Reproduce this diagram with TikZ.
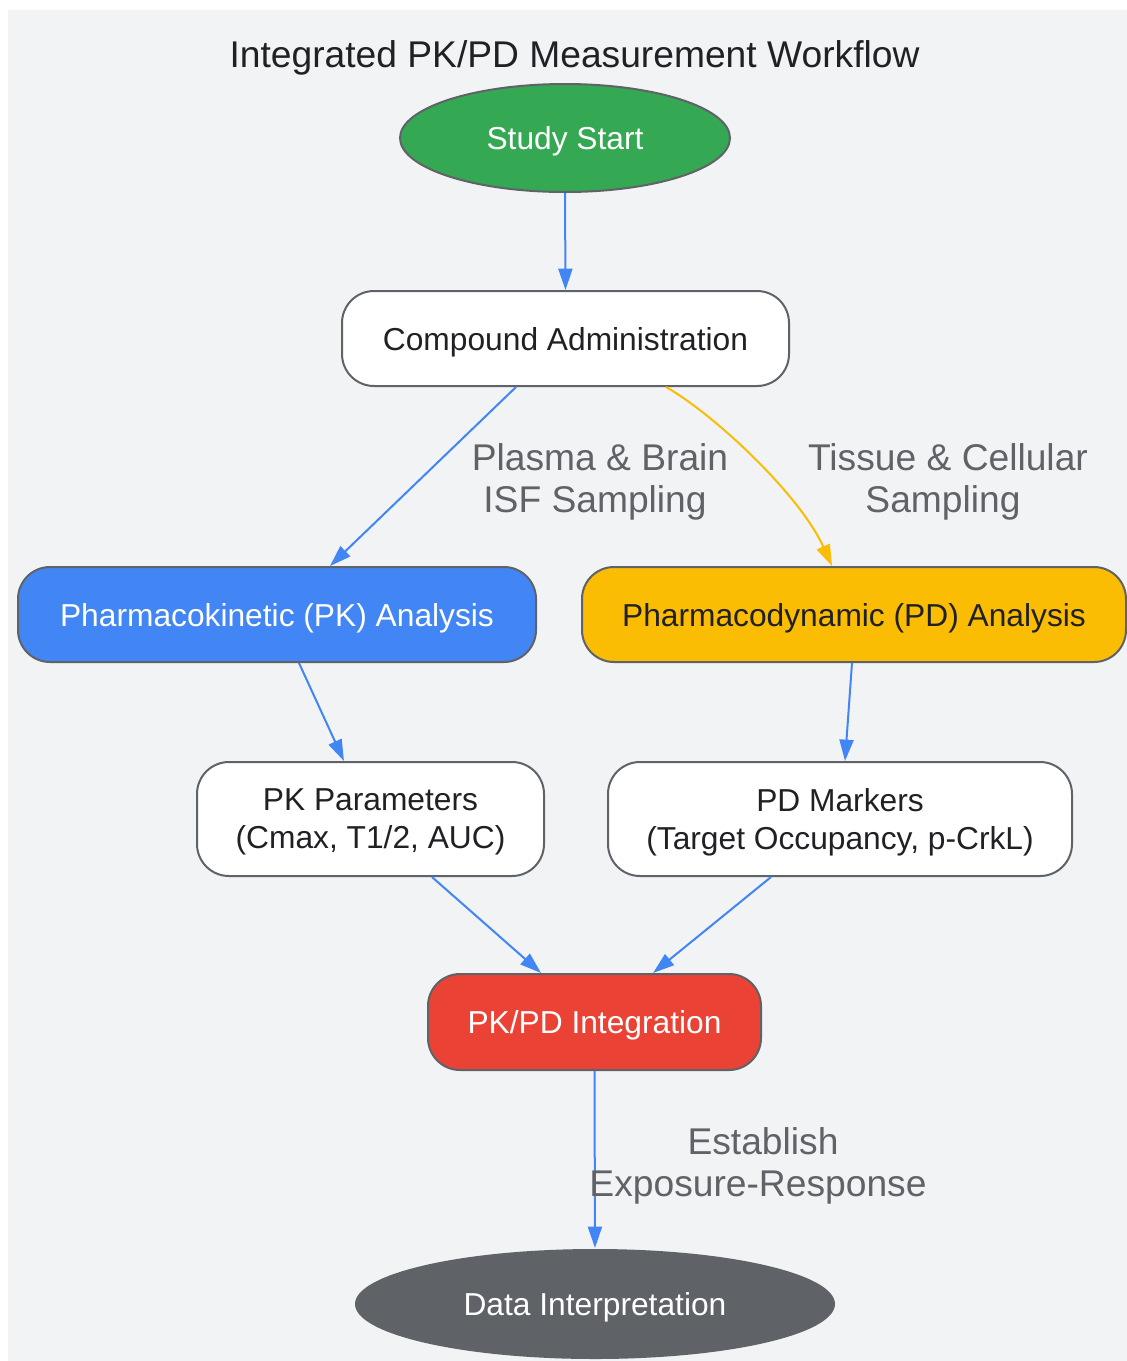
\documentclass[tikz,border=0pt]{standalone}
\usepackage{fontspec}
\setmainfont{Liberation Sans}
\usetikzlibrary{arrows.meta,shapes.geometric}
\definecolor{bgc}{HTML}{F1F3F4}
\definecolor{ggreen}{HTML}{34A853}
\definecolor{gblue}{HTML}{4285F4}
\definecolor{gyellow}{HTML}{FBBC04}
\definecolor{gred}{HTML}{EA4335}
\definecolor{ggray}{HTML}{5F6368}
\definecolor{gtext}{HTML}{202124}
\tikzset{
  base/.style={draw=ggray, line width=1.5pt, inner sep=0pt, align=center, text depth=0pt,
    font=\fontsize{23.8pt}{28.5pt}\selectfont, text=gtext},
  oval/.style={base, ellipse},
  box/.style={base, rectangle, rounded corners=24pt},
  edgelabel/.style={align=center, text=ggray, text depth=0pt, font=\fontsize{27.9pt}{31.5pt}\selectfont},
  conn/.style={draw=gblue, line width=1.5pt, -{Triangle[length=16pt,width=10.5pt]}},
  connY/.style={conn, draw=gyellow},
}
\begin{document}
\begin{tikzpicture}[x=0.75pt,y=-0.75pt]
\useasboundingbox (0,0) rectangle (1127,1361);
\fill[bgc] (8,10) rectangle (1127,1361);

\node[text=gtext, text depth=0pt, font=\fontsize{27.9pt}{31.5pt}\selectfont] (title) at (574.5,54) {Integrated PK/PD Measurement Workflow};

\node[oval, fill=ggreen, text=white, minimum width=247.5pt, minimum height=81pt] (start) at (565,138) {Study Start};
\node[box, fill=white, minimum width=335.25pt, minimum height=71.25pt] (comp) at (565.5,338.5) {Compound Administration};
\node[box, fill=gblue, text=white, minimum width=388.5pt, minimum height=71.25pt] (pk) at (277,614.5) {Pharmacokinetic (PK) Analysis};
\node[box, fill=gyellow, minimum width=408pt, minimum height=71.25pt] (pd) at (854,614.5) {Pharmacodynamic (PD) Analysis};
\node[box, fill=white, minimum width=260.25pt, minimum height=85.5pt] (pkp) at (370.5,819) {PK Parameters\\(Cmax, T1/2, AUC)};
\node[box, fill=white, minimum width=348pt, minimum height=85.5pt] (pdm) at (840,819) {PD Markers\\(Target Occupancy, p-CrkL)};
\node[box, fill=gred, text=white, minimum width=249.75pt, minimum height=72pt] (int) at (594.5,1022) {PK/PD Integration};
\node[oval, fill=ggray, draw=none, text=white, minimum width=360pt, minimum height=82.5pt] (di) at (595,1304) {Data Interpretation};

\draw[conn] (start.south) -- (comp.north);
\draw[conn] ([xshift=-37.1pt]comp.south) -- ([xshift=39.75pt]pk.north);
\draw[connY] ([xshift=75.4pt]comp.south) .. controls (715,415) and (800,495) .. ([xshift=-16.5pt]pd.north);
\draw[conn] ([xshift=16.5pt]pk.south) -- ([xshift=-19.9pt]pkp.north);
\draw[conn] ([xshift=-1.5pt]pd.south) -- ([xshift=3.75pt]pdm.north);
\draw[conn] ([xshift=46.1pt]pkp.south) -- ([xshift=-40.1pt]int.north);
\draw[conn] ([xshift=-51.75pt]pdm.south) -- ([xshift=43.9pt]int.north);
\draw[conn] (int.south) -- (di.north);

\node[edgelabel] (l1) at (600,478) {Plasma \& Brain\\ISF Sampling\hspace*{7.5pt}};
\node[edgelabel] (l2) at (948,478) {Tissue \& Cellular\\Sampling\hspace*{7.5pt}};
\node[edgelabel] (l3) at (763,1162) {Establish\\Exposure-Response\hspace*{7.5pt}};
\end{tikzpicture}
\end{document}
